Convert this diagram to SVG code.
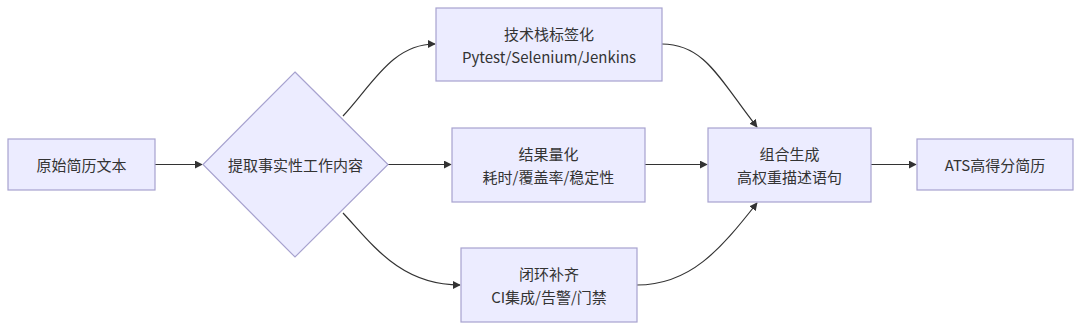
<svg xmlns="http://www.w3.org/2000/svg" width="1080" height="329" viewBox="0 0 1080 329">
<style>
.node{fill:#ECECFF;stroke:#a7a2cf;stroke-width:1.2}
.lbl{font-family:"Noto Sans CJK SC","Noto Sans",sans-serif;font-size:15px;fill:#333;text-anchor:middle;dominant-baseline:central}
.edge{fill:none;stroke:#333;stroke-width:1.2;marker-end:url(#arr)}
</style>
<defs>
<marker id="arr" viewBox="0 0 10 10" refX="9" refY="5" markerWidth="8" markerHeight="8" markerUnits="userSpaceOnUse" orient="auto">
<path d="M0,0 L10,5 L0,10 z" fill="#333"/>
</marker>
</defs>
<rect width="1080" height="329" fill="#fff"/>
<g id="connectors">
<path class="edge" d="M155,164.5 L202,164.5"/>
<path class="edge" d="M343,116 C372,85 392,44 435,44"/>
<path class="edge" d="M388,164.5 L451,164.5"/>
<path class="edge" d="M343,213 C372,244 400,285 460,285"/>
<path class="edge" d="M662,44 C705,44 720,80 757,127"/>
<path class="edge" d="M645,164.5 L707,164.5"/>
<path class="edge" d="M637,285 C690,285 720,250 757,203"/>
<path class="edge" d="M871,164.5 L916,164.5"/>
</g>
<g id="n1"><rect class="node" x="8" y="139" width="147" height="51"/><text class="lbl" x="81.5" y="164.5">原始简历文本</text></g>
<g id="n2"><polygon class="node" points="295,72 388,164.5 295,257 203,164.5"/><text class="lbl" x="295.5" y="164.5">提取事实性工作内容</text></g>
<g id="n3"><rect class="node" x="436" y="8" width="226" height="73"/><text class="lbl" x="549" y="33">技术栈标签化</text><text class="lbl" x="549" y="56">Pytest/Selenium/Jenkins</text></g>
<g id="n4"><rect class="node" x="452" y="128" width="193" height="74"/><text class="lbl" x="548.5" y="153">结果量化</text><text class="lbl" x="548.5" y="176">耗时/覆盖率/稳定性</text></g>
<g id="n5"><rect class="node" x="461" y="248" width="176" height="74"/><text class="lbl" x="549" y="273">闭环补齐</text><text class="lbl" x="549" y="296">CI集成/告警/门禁</text></g>
<g id="n6"><rect class="node" x="708" y="128" width="163" height="74"/><text class="lbl" x="789.5" y="153">组合生成</text><text class="lbl" x="789.5" y="176">高权重描述语句</text></g>
<g id="n7"><rect class="node" x="917" y="139" width="156" height="51"/><text class="lbl" x="995" y="164.5">ATS高得分简历</text></g>
</svg>
